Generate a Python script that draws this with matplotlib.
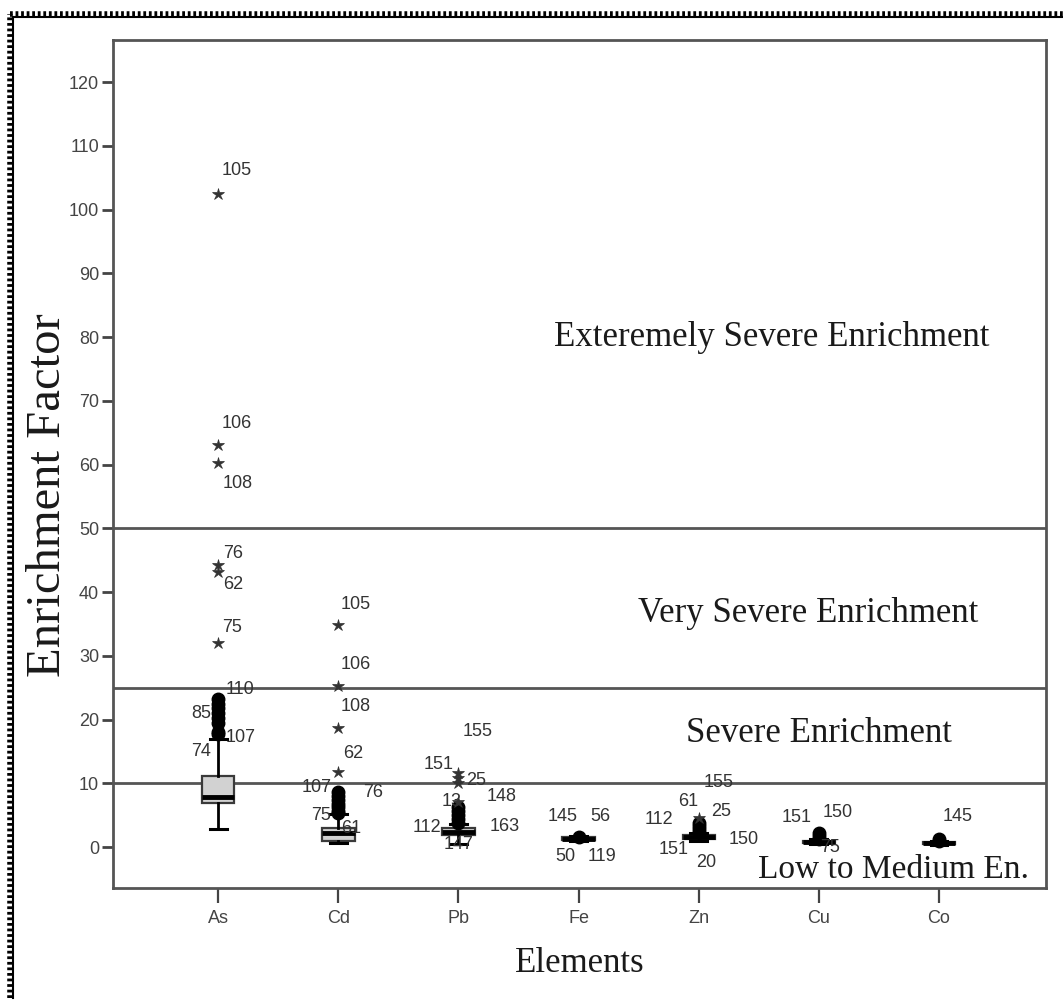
import matplotlib.pyplot as plt
from matplotlib.lines import Line2D

# Enrichment factor box plots per element (SPSS-style: circles = outliers, stars = extremes)
elements = ["As", "Cd", "Pb", "Fe", "Zn", "Cu", "Co"]
q1 = [6.9, 0.9, 1.9, 1.1, 1.3, 0.6, 0.45]
medians = [7.9, 2.2, 2.3, 1.3, 1.6, 0.8, 0.6]
q3 = [11.1, 3.0, 3.0, 1.5, 1.9, 1.0, 0.75]
whisker_lo = [2.8, 0.6, 0.5, 0.9, 1.0, 0.4, 0.3]
whisker_hi = [17.0, 5.2, 3.6, 1.7, 2.2, 1.2, 0.9]

outliers = [
    [23.2, 22.5, 21.8, 21.0, 20.2, 19.5, 18.0, 17.7],
    [8.6, 8.0, 7.4, 6.8, 6.2, 5.6, 5.3],
    [6.3, 5.6, 5.0, 4.4, 3.8],
    [1.6],
    [2.3, 2.8, 3.3, 3.8],
    [1.3, 1.7, 2.2],
    [1.0, 1.3],
]
extremes = [
    [102.5, 63.1, 60.2, 44.2, 43.1, 32.0],
    [34.8, 25.3, 18.7, 11.8],
    [11.6, 10.8, 10.0, 7.1],
    [],
    [4.6],
    [],
    [],
]

# case labels: (element index, value of the point it belongs to, case number)
case_labels = [
    (0, 102.5, "105"), (0, 63.1, "106"), (0, 60.2, "108"), (0, 44.2, "76"),
    (0, 43.1, "62"), (0, 32.0, "75"), (0, 23.2, "110"), (0, 21.0, "85"),
    (0, 17.7, "107"), (0, 18.0, "74"),
    (1, 34.8, "105"), (1, 25.3, "106"), (1, 18.7, "108"), (1, 11.8, "62"),
    (1, 8.6, "107"), (1, 8.6, "76"), (1, 5.3, "75"), (1, 5.3, "61"),
    (2, 11.6, "155"), (2, 11.6, "151"), (2, 10.0, "25"), (2, 7.1, "148"),
    (2, 7.1, "13"), (2, 3.8, "163"), (2, 3.8, "112"), (2, 3.8, "147"),
    (3, 1.6, "145"), (3, 1.6, "56"), (3, 1.6, "50"), (3, 1.6, "119"),
    (4, 4.6, "155"), (4, 4.6, "61"), (4, 4.6, "25"), (4, 4.6, "112"),
    (4, 1.6, "150"), (4, 1.6, "151"), (4, 1.6, "20"),
    (5, 2.2, "151"), (5, 2.2, "150"), (5, 0.8, "75"),
    (6, 1.3, "145"),
]
# pixel offsets of each case label from its point
label_offsets = [
    (19, 23), (19, 21), (20, -20), (15, 12),
    (15, -12), (14, 16), (22, 10), (-17, 0),
    (22, -3), (-17, -19),
    (17, 21), (17, 21), (17, 21), (15, 18),
    (-22, 5), (35, 0), (-17, -2), (13, -15),
    (19, 42), (-20, 9), (18, 3), (43, 5),
    (-7, 0), (46, -4), (-32, -5), (0, -22),
    (-16, 20), (22, 20), (-13, -20), (23, -20),
    (20, 35), (-11, 16), (22, 6), (-40, -2),
    (45, -3), (-25, -13), (7, -26),
    (-22, 15), (19, 20), (11, -6),
    (19, 22),
]

thresholds = [10, 25, 50]
zones = ["Exteremely Severe Enrichment", "Very Severe Enrichment",
         "Severe Enrichment", "Low to Medium En."]

fig = plt.figure(figsize=(10.63, 10.01), dpi=100)
ax = fig.add_axes([113 / 1063, 113 / 1001, 933 / 1063, 848 / 1001])

positions = list(range(1, len(elements) + 1))
stats = []
for i, name in enumerate(elements):
    stats.append(dict(label=name, q1=q1[i], med=medians[i], q3=q3[i],
                      whislo=whisker_lo[i], whishi=whisker_hi[i], fliers=[]))

edge = "#3a3a3a"
ax.bxp(stats, positions=positions, widths=0.27, showfliers=False,
       patch_artist=True,
       boxprops=dict(facecolor="#d2d2d2", edgecolor=edge, linewidth=1.6),
       medianprops=dict(color="black", linewidth=3.5),
       whiskerprops=dict(color="black", linewidth=2),
       capprops=dict(color="black", linewidth=2.2),
       capwidths=0.14)

for i in range(len(elements)):
    x = positions[i]
    if outliers[i]:
        ax.plot([x] * len(outliers[i]), outliers[i], "o", color="black",
                markersize=9, zorder=4)
    if extremes[i]:
        ax.plot([x] * len(extremes[i]), extremes[i], "*", color="#333333",
                markersize=9, markeredgewidth=0.5, zorder=4)

for (i, val, txt), (dx, dy) in zip(case_labels, label_offsets):
    ax.annotate(txt, (positions[i], val), xytext=(dx, dy),
                textcoords="offset pixels", ha="center", va="center",
                fontsize=13, family="Liberation Sans", color="#333333",
                zorder=5)

for t in thresholds:
    ax.axhline(t, color="#555555", linewidth=2, zorder=1)

serif = dict(family="Liberation Serif", color="#1a1a1a",
             ha="center", va="center")
ax.text(5.61, 80.0, zones[0], fontsize=25, **serif)
ax.text(5.91, 36.6, zones[1], fontsize=25, **serif)
ax.text(6.00, 17.8, zones[2], fontsize=25, **serif)
ax.text(6.62, -3.6, zones[3], fontsize=24, **serif)

ax.set_xlim(0.125, 7.89)
ax.set_ylim(-6.43, 126.6)
ax.set_yticks(range(0, 121, 10))
ax.set_xticks(positions)
ax.set_xticklabels(elements)

for s in ax.spines.values():
    s.set_color("#555555")
    s.set_linewidth(2)
ax.tick_params(axis="y", direction="out", length=8, width=2, color="#444444",
               labelsize=13, labelcolor="#444444", pad=2)
ax.tick_params(axis="x", direction="out", length=11, width=1.6,
               color="#444444", labelsize=13, labelcolor="#444444", pad=5)
for lab in ax.get_xticklabels() + ax.get_yticklabels():
    lab.set_family("Liberation Sans")

ax.set_ylabel("Enrichment Factor", family="Liberation Serif", fontsize=35,
              color="#1a1a1a", va="center")
ax.yaxis.set_label_coords(-0.07, 0.463)
ax.set_xlabel("Elements", family="Liberation Serif", fontsize=25,
              color="#1a1a1a", labelpad=14)

# dotted outer frame along the left and top edges
fig.add_artist(Line2D([10 / 1063, 10 / 1063], [3 / 1001, 987 / 1001],
                      transform=fig.transFigure, color="black",
                      linewidth=4, linestyle=(0, (0.5, 0.5))))
fig.add_artist(Line2D([10 / 1063, 1.0], [987 / 1001, 987 / 1001],
                      transform=fig.transFigure, color="black",
                      linewidth=4, linestyle=(0, (0.5, 0.5))))
fig.add_artist(Line2D([13 / 1063, 13 / 1063], [3 / 1001, 984 / 1001],
                      transform=fig.transFigure, color="black", linewidth=1.5))
fig.add_artist(Line2D([13 / 1063, 1.0], [984 / 1001, 984 / 1001],
                      transform=fig.transFigure, color="black", linewidth=1.5))

fig.savefig("out.png", dpi=100)
